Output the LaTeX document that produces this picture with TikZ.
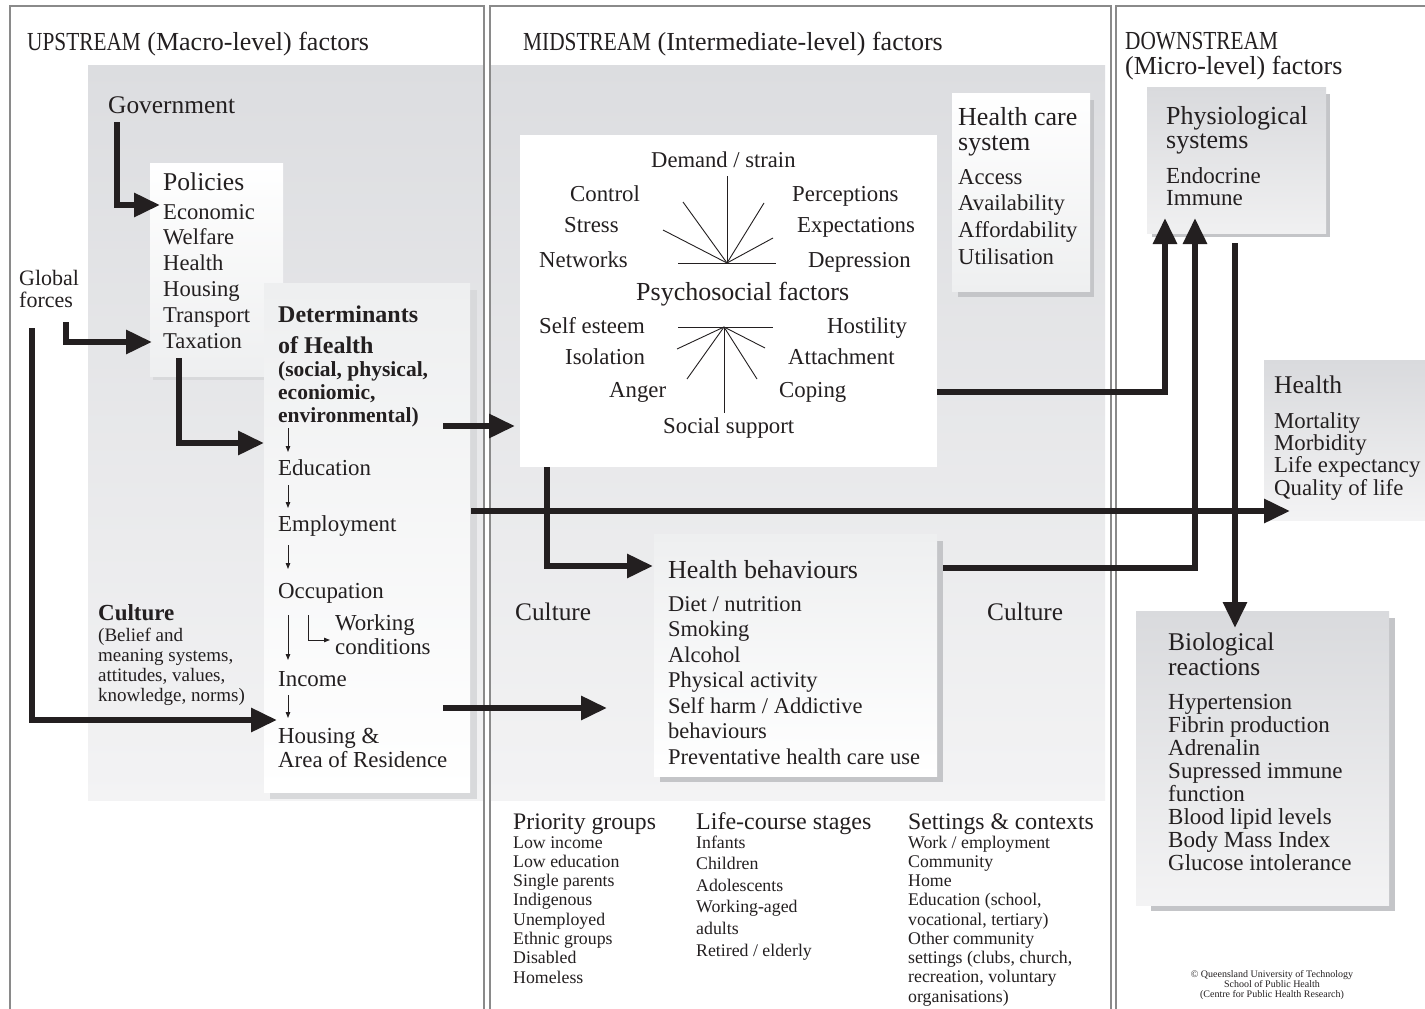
\documentclass[tikz,border=0pt]{standalone}
\usepackage{fontspec}
\setmainfont{Liberation Serif}
\newfontfamily\capsfont[FakeStretch=0.82]{Liberation Serif}
\usetikzlibrary{arrows.meta}
\definecolor{ink}{HTML}{231F20}
\definecolor{framec}{HTML}{8A8A8A}
\definecolor{gtop}{HTML}{DCDDE0}
\definecolor{gbot}{HTML}{F3F3F4}
\definecolor{shadowc}{HTML}{C4C5C8}
\definecolor{lshadow}{HTML}{D8D9DB}
\definecolor{boxtop}{HTML}{EEEFF0}
\definecolor{gboxtop}{HTML}{D9DADD}
\definecolor{gboxbot}{HTML}{F0F0F1}
\newcommand\fsz[1]{\fontsize{#1}{#1}\selectfont}
\begin{document}
\begin{tikzpicture}[x=1pt,y=-1pt,
  txt/.style={anchor=base west,inner sep=0pt,text=ink},
  ctxt/.style={anchor=base,inner sep=0pt,text=ink},
  bigarrow/.style={line width=6pt,draw=ink,line join=miter,-{Triangle[length=26pt,width=23pt]}},
  smallarrow/.style={line width=1pt,draw=ink,-{Triangle[length=6pt,width=4.5pt]}},
  panel/.style={draw=framec,line width=1.4pt},
  spoke/.style={draw=ink,line width=0.9pt}]
\useasboundingbox (0,0) rectangle (1425,1009);
\clip (0,0) rectangle (1425,1009);
\fill[white] (0,0) rectangle (1425,1009);
% gray regions
\shade[top color=gtop,bottom color=gbot] (88,65) rectangle (484,800);
\shade[top color=gtop,bottom color=gbot] (490,65) rectangle (1105,800);
% panels
\draw[panel] (10,6) rectangle (484,1030);
\draw[panel] (490,6) rectangle (1111,1030);
\draw[panel] (1116,6) rectangle (1450,1030);
% titles
\node[txt,font=\fsz{26}] (upT) at (27,50) {{\capsfont UPSTREAM} (Macro-level) factors};
\node[txt,font=\fsz{26}] (midT) at (523,50) {{\capsfont MIDSTREAM} (Intermediate-level) factors};
\node[txt,font=\fsz{26}] (downT) at (1125,49) {\capsfont DOWNSTREAM};
\node[txt,font=\fsz{26}] (downT2) at (1125,74) {(Micro-level) factors};
% boxes
\fill[lshadow] (153,374) rectangle (264,380);
\shade[top color=white,bottom color=boxtop] (150,163) rectangle (283,376);
\fill[lshadow] (270,290) rectangle (477,799);
\shade[top color=boxtop,bottom color=white] (264,283) rectangle (470,792);
\fill[white] (520,135) rectangle (937,467);
\fill[shadowc] (958,100) rectangle (1094,297);
\shade[top color=white,bottom color=boxtop] (952,93) rectangle (1090,291);
\fill[shadowc] (660,541) rectangle (943,782);
\shade[top color=boxtop,bottom color=white] (654,534) rectangle (937,776);
\fill[shadowc] (1152,94) rectangle (1330,237);
\shade[top color=gboxtop,bottom color=gboxbot] (1147,87) rectangle (1326,233);
\shade[top color=gboxtop,bottom color=gbot] (1264,360) rectangle (1450,520);
\fill[shadowc] (1151,618) rectangle (1395,911);
\shade[top color=gboxtop,bottom color=gbot] (1136,611) rectangle (1389,905);
% left panel texts
\node[txt,font=\fsz{25.4}] (gov) at (108,113) {Government};
\node[txt,font=\fsz{25.6}] (pol) at (163,190) {Policies};
\foreach \t [count=\i] in {Economic,Welfare,Health,Housing,Transport,Taxation}
  \node[txt,font=\fsz{22.6}] (pol\i) at (163,{219+25.8*(\i-1)}) {\t};
\node[txt,font=\fsz{22}] (glob1) at (19,285) {Global};
\node[txt,font=\fsz{22}] (glob2) at (19,307) {forces};
\node[txt,font=\bfseries\fsz{24}] (det1) at (278,322) {Determinants};
\node[txt,font=\bfseries\fsz{24}] (det2) at (278,353) {of Health};
\foreach \t [count=\i] in {{(social, physical,},{econiomic,},{environmental)}}
  \node[txt,font=\bfseries\fsz{21.5}] (dets\i) at (278,{376+23*(\i-1)}) {\t};
\node[txt,font=\fsz{22.9}] (edu) at (278,475) {Education};
\node[txt,font=\fsz{22.9}] (emp) at (278,531) {Employment};
\node[txt,font=\fsz{22.9}] (occ) at (278,598) {Occupation};
\node[txt,font=\fsz{22.9}] (wc1) at (335,630) {Working};
\node[txt,font=\fsz{22.9}] (wc2) at (335,654) {conditions};
\node[txt,font=\fsz{22.9}] (inc) at (278,686) {Income};
\node[txt,font=\fsz{22.9}] (hou1) at (278,743) {Housing \&};
\node[txt,font=\fsz{22.9}] (hou2) at (278,767) {Area of Residence};
\node[txt,font=\bfseries\fsz{23}] (cultL) at (98,620) {Culture};
\foreach \t [count=\i] in {{(Belief and},{meaning systems,},{attitudes, values,},{knowledge, norms)}}
  \node[txt,font=\fsz{19}] (cultL\i) at (98,{641+20.3*(\i-1)}) {\t};
% small arrows
\draw[smallarrow] (288,428) -- (288,452);
\draw[smallarrow] (288,485) -- (288,508);
\draw[smallarrow] (288,545) -- (288,569);
\draw[smallarrow] (288,615) -- (288,660);
\draw[smallarrow] (308,615) |- (330,640);
\draw[smallarrow] (288,695) -- (288,718);
% psychosocial
\node[txt,font=\fsz{22.6}] (ps1) at (651,167) {Demand / strain};
\node[txt,font=\fsz{22.8}] (ps2) at (570,201) {Control};
\node[txt,font=\fsz{22.8}] (ps3) at (792,201) {Perceptions};
\node[txt,font=\fsz{22.8}] (ps4) at (564,232) {Stress};
\node[txt,font=\fsz{22.8}] (ps5) at (797,232) {Expectations};
\node[txt,font=\fsz{22.8}] (ps6) at (539,267) {Networks};
\node[txt,font=\fsz{22.8}] (ps7) at (808,267) {Depression};
\node[txt,font=\fsz{26}] (psT) at (636,300) {Psychosocial factors};
\node[txt,font=\fsz{22.8}] (ps8) at (539,333) {Self esteem};
\node[txt,font=\fsz{22.8}] (ps9) at (827,333) {Hostility};
\node[txt,font=\fsz{22.8}] (ps10) at (565,364) {Isolation};
\node[txt,font=\fsz{22.8}] (ps11) at (788,364) {Attachment};
\node[txt,font=\fsz{22.8}] (ps12) at (609,397) {Anger};
\node[txt,font=\fsz{22.8}] (ps13) at (779,397) {Coping};
\node[txt,font=\fsz{22.8}] (ps14) at (663,433) {Social support};
\coordinate (sa) at (727,263);
\draw[spoke] (sa) -- (727,176);
\draw[spoke] (678,263) -- (776,263);
\draw[spoke] (sa) -- (683,202);
\draw[spoke] (sa) -- (663,230);
\draw[spoke] (sa) -- (764,203);
\draw[spoke] (sa) -- (773,238);
\coordinate (sb) at (724,327);
\draw[spoke] (sb) -- (724,413);
\draw[spoke] (678,327) -- (773,327);
\draw[spoke] (sb) -- (677,349);
\draw[spoke] (sb) -- (687,379);
\draw[spoke] (sb) -- (765,348);
\draw[spoke] (sb) -- (757,379);
% health care system
\node[txt,font=\fsz{26}] (hc1) at (958,125) {Health care};
\node[txt,font=\fsz{26}] (hc2) at (958,150) {system};
\foreach \t [count=\i] in {Access,Availability,Affordability,Utilisation}
  \node[txt,font=\fsz{22.7}] (hcs\i) at (958,{184+26.7*(\i-1)}) {\t};
% health behaviours
\node[txt,font=\fsz{26}] (hbT) at (668,578) {Health behaviours};
\foreach \t [count=\i] in {Diet / nutrition,Smoking,Alcohol,Physical activity,Self harm / Addictive,behaviours,Preventative health care use}
  \node[txt,font=\fsz{22.5}] (hb\i) at (668,{611+25.5*(\i-1)}) {\t};
\node[txt,font=\fsz{25.3}] (cultM) at (515,620) {Culture};
\node[txt,font=\fsz{25.3}] (cultR) at (987,620) {Culture};
% bottom lists
\node[txt,font=\fsz{23.7}] (pgT) at (513,829) {Priority groups};
\foreach \t [count=\i] in {Low income,Low education,Single parents,Indigenous,Unemployed,Ethnic groups,Disabled,Homeless}
  \node[txt,font=\fsz{17.8}] (pg\i) at (513,{848+19.3*(\i-1)}) {\t};
\node[txt,font=\fsz{24}] (lcT) at (696,829) {Life-course stages};
\foreach \t [count=\i] in {Infants,Children,Adolescents,Working-aged,adults,Retired / elderly}
  \node[txt,font=\fsz{17.8}] (lc\i) at (696,{848+21.6*(\i-1)}) {\t};
\node[txt,font=\fsz{23.7}] (scT) at (908,829) {Settings \& contexts};
\foreach \t [count=\i] in {Work / employment,Community,Home,{Education (school,},{vocational, tertiary)},Other community,{settings (clubs, church,},{recreation, voluntary},organisations)}
  \node[txt,font=\fsz{17.8}] (sc\i) at (908,{848+19.25*(\i-1)}) {\t};
% downstream
\node[txt,font=\fsz{26}] (phT1) at (1166,124) {Physiological};
\node[txt,font=\fsz{26}] (phT2) at (1166,148) {systems};
\node[txt,font=\fsz{23}] (ph1) at (1166,183) {Endocrine};
\node[txt,font=\fsz{23}] (ph2) at (1166,205) {Immune};
\node[txt,font=\fsz{25.5}] (hT) at (1274,393) {Health};
\foreach \t [count=\i] in {Mortality,Morbidity,Life expectancy,Quality of life}
  \node[txt,font=\fsz{22.8}] (h\i) at (1274,{428+22.4*(\i-1)}) {\t};
\node[txt,font=\fsz{25.5}] (bT1) at (1168,650) {Biological};
\node[txt,font=\fsz{25.5}] (bT2) at (1168,675) {reactions};
\foreach \t [count=\i] in {Hypertension,Fibrin production,Adrenalin,Supressed immune,function,Blood lipid levels,Body Mass Index,Glucose intolerance}
  \node[txt,font=\fsz{23}] (b\i) at (1168,{709+23*(\i-1)}) {\t};
\node[ctxt,font=\fsz{10}] (cp1) at (1272,977) {\textcopyright\ Queensland University of Technology};
\node[ctxt,font=\fsz{10}] (cp2) at (1272,987) {School of Public Health};
\node[ctxt,font=\fsz{10}] (cp3) at (1272,997) {(Centre for Public Health Research)};
% big arrows
\coordinate (govS) at (117,122);
\coordinate (polIn) at (160,205);
\coordinate (globS) at (66,322);
\coordinate (polIn2) at (152,342);
\coordinate (farS) at (32,328);
\coordinate (houIn) at (277,720);
\coordinate (polS) at (179,358);
\coordinate (detIn) at (264,443);
\coordinate (detO1) at (443,426);
\coordinate (psyIn) at (515,426);
\coordinate (detO2) at (471,511);
\coordinate (hIn) at (1290,511);
\coordinate (detO3) at (443,708);
\coordinate (hbIn2) at (607,708);
\coordinate (psyO1) at (937,392);
\coordinate (phIn1) at (1165,218);
\coordinate (psyO2) at (547,467);
\coordinate (hbIn) at (653,566);
\coordinate (hbO) at (943,568);
\coordinate (phIn2) at (1195,218);
\coordinate (phO) at (1235,243);
\coordinate (bIn) at (1235,628);
\draw[bigarrow] (govS) |- (polIn);
\draw[bigarrow] (globS) |- (polIn2);
\draw[bigarrow] (farS) |- (houIn);
\draw[bigarrow] (polS) |- (detIn);
\draw[bigarrow] (detO1) -- (psyIn);
\draw[bigarrow] (detO2) -- (hIn);
\draw[bigarrow] (detO3) -- (hbIn2);
\draw[bigarrow] (psyO1) -| (phIn1);
\draw[bigarrow] (psyO2) |- (hbIn);
\draw[bigarrow] (hbO) -| (phIn2);
\draw[bigarrow] (phO) -- (bIn);
\end{tikzpicture}
\end{document}
